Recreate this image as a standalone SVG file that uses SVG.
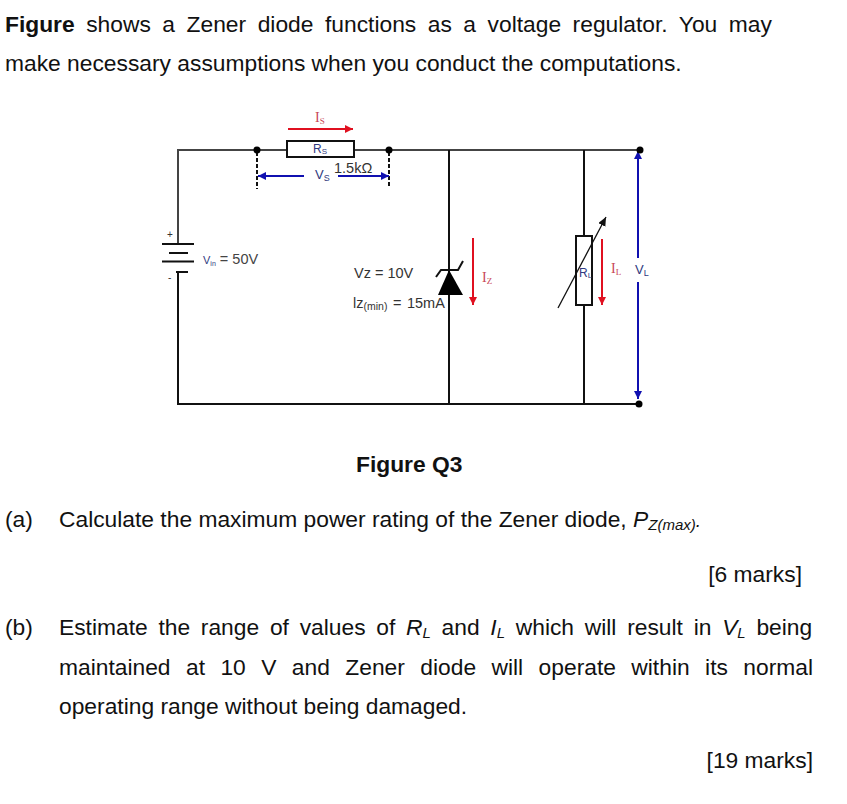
<svg xmlns="http://www.w3.org/2000/svg" width="847" height="804" viewBox="0 0 847 804">
<style>
text{font-family:"Liberation Sans",Arial,sans-serif;fill:#000}
.b{font-size:22.8px;fill:#111}
.s{fill:#333}
.w{stroke:#444;stroke-width:2;fill:none}
.blk{stroke:#111;stroke-width:2;fill:none}
.red{stroke:#e01020;stroke-width:2;fill:none}
.blu{stroke:#1010b0;stroke-width:2;fill:none}
.dash{stroke:#111;stroke-width:2;stroke-dasharray:4 2;fill:none}
.serif{font-family:"Liberation Serif",serif;fill:#c84858}
.lab{fill:#303a80}
</style>
<defs>
<marker id="r" markerWidth="9" markerHeight="9" refX="8" refY="4" orient="auto" markerUnits="userSpaceOnUse"><path d="M0 0L8 4L0 8z" fill="#e01020"/></marker>
<marker id="u" markerWidth="9" markerHeight="9" refX="8" refY="4" orient="auto" markerUnits="userSpaceOnUse"><path d="M0 0L8 4L0 8z" fill="#1010b0"/></marker>
<marker id="k" markerWidth="10" markerHeight="10" refX="9" refY="4" orient="auto" markerUnits="userSpaceOnUse"><path d="M0 0L9 4L0 8z" fill="#111"/></marker>
</defs>
<g id="question-text">
<text class="b" x="5" y="32" word-spacing="5.2"><tspan font-weight="bold">Figure</tspan> shows a Zener diode functions as a voltage regulator. You may</text>
<text class="b" x="5" y="71">make necessary assumptions when you conduct the computations.</text>
<text class="b" x="356" y="472" font-weight="bold">Figure Q3</text>
<text class="b" x="5" y="526.500">(a)</text>
<text class="b" x="59" y="526.500">Calculate the maximum power rating of the Zener diode, <tspan font-style="italic">P</tspan><tspan font-style="italic" font-size="15" dy="3">Z(max)</tspan><tspan dy="-3" font-style="italic" font-size="19">.</tspan></text>
<text class="b" x="802" y="582" text-anchor="end">[6 marks]</text>
<text class="b" x="5" y="635">(b)</text>
<text class="b" x="59" y="635" word-spacing="4.4">Estimate the range of values of <tspan font-style="italic">R</tspan><tspan font-style="italic" font-size="15" dy="3">L</tspan><tspan dy="-3"> and </tspan><tspan font-style="italic">I</tspan><tspan font-style="italic" font-size="15" dy="3">L</tspan><tspan dy="-3"> which will result in </tspan><tspan font-style="italic">V</tspan><tspan font-style="italic" font-size="15" dy="3">L</tspan><tspan dy="-3"> being</tspan></text>
<text class="b" x="59" y="675" word-spacing="9.1">maintained at 10 V and Zener diode will operate within its normal</text>
<text class="b" x="59" y="714">operating range without being damaged.</text>
<text class="b" x="813" y="768" text-anchor="end">[19 marks]</text>
</g>
<g id="connectors">
<path class="w" d="M178 243V150H287M354 150H640"/>
<path class="blk" d="M178 272V404H640"/>
<path class="blk" d="M449 150V278M449 294V404"/>
<path class="blk" d="M584 150V236M584 305V404"/>
<path class="dash" d="M257 152V189M389 152V188"/>
<path class="blu" d="M304 176H258" marker-end="url(#u)"/>
<path class="blu" d="M338 176H389" marker-end="url(#u)"/>
<path class="blu" d="M638 258V151" marker-end="url(#u)"/>
<path class="blu" d="M638 282V399" marker-end="url(#u)"/>
<path class="red" d="M288 129H353" marker-end="url(#r)"/>
<path class="red" d="M473 238V305" marker-end="url(#r)"/>
<path class="red" d="M602 239V305" marker-end="url(#r)"/>
</g>
<g id="junctions" fill="#000">
<circle cx="257" cy="150" r="3.5"/><circle cx="389" cy="150" r="3.5"/><circle cx="640" cy="150" r="3.5"/><circle cx="639" cy="404" r="3.5"/>
</g>
<g id="rs">
<rect x="287" y="141" width="67" height="16" fill="#fff" stroke="#111" stroke-width="2"/>
<text class="lab" x="313" y="153" font-size="12">R<tspan font-size="8" dy="1">S</tspan></text>
<text x="334" y="173" font-size="14.5" class="s">1.5kΩ</text>
<text class="lab" x="315" y="179" font-size="13">V<tspan font-size="9" dy="2">S</tspan></text>
<text class="serif" x="315" y="122" font-size="14">I<tspan font-size="9" dy="2">S</tspan></text>
</g>
<g id="battery">
<path class="blk" d="M162 244H194M169 253H188M162 261.500H194M176 272H188"/>
<text x="167" y="238" font-size="10" class="s">+</text>
<text x="168" y="281" font-size="10" class="s">-</text>
<text x="203" y="264" font-size="14.500" style="fill:#444"><tspan class="lab" font-size="11">V</tspan><tspan class="lab" font-size="7" dy="2">in</tspan><tspan dy="-2"> = 50V</tspan></text>
</g>
<g id="zener">
<path d="M449 270L438 295H463z" fill="#000"/>
<path class="blk" d="M436 277L441 270H458L463 261"/>
<text x="354" y="278" font-size="14.5" class="s">Vz = 10V</text>
<text x="353" y="308" font-size="14.5" class="s" word-spacing="1.500">lz<tspan font-size="10.500" dy="2">(min)</tspan><tspan dy="-2"> = 15mA</tspan></text>
<text class="serif" x="482" y="282" font-size="14">I<tspan font-size="9" dy="2">Z</tspan></text>
</g>
<g id="rl">
<rect x="576" y="236" width="16" height="69" fill="none" stroke="#111" stroke-width="2"/>
<path d="M558 308L606 217" stroke="#111" stroke-width="1.300" fill="none" marker-end="url(#k)"/>
<text class="lab" x="579" y="277" font-size="12">R<tspan font-size="8" dy="1">L</tspan></text>
<text class="serif" x="611" y="273" font-size="14">I<tspan font-size="9" dy="2">L</tspan></text>
<text class="lab" x="635" y="274" font-size="13">V<tspan font-size="9" dy="2">L</tspan></text>
</g>
</svg>
